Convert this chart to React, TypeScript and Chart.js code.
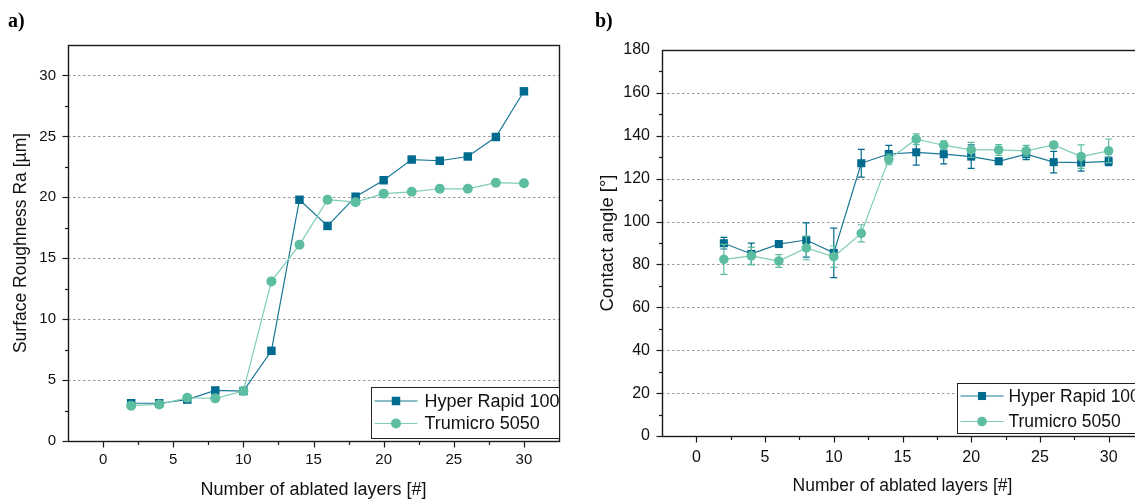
import React, { useEffect, useRef } from 'react';
import { Chart, registerables } from 'chart.js';

Chart.register(...registerables);

// ---------- data ----------
const layers = [2, 4, 6, 8, 10, 12, 14, 16, 18, 20, 22, 24, 26, 28, 30];
const seriesNames = ['Hyper Rapid 100', 'Trumicro 5050'];

const roughnessHyper = [3.1, 3.1, 3.4, 4.15, 4.1, 7.4, 19.8, 17.65, 20.05, 21.4, 23.1, 23.0, 23.35, 24.95, 28.7];
const roughnessTrumicro = [2.9, 3.0, 3.55, 3.5, 4.1, 13.1, 16.1, 19.8, 19.6, 20.3, 20.45, 20.7, 20.7, 21.2, 21.15];

const angleHyper = [89.9, 84.9, 89.5, 91.4, 85.4, 127.2, 131.5, 132.3, 131.4, 130.3, 128.1, 131.4, 127.7, 127.5, 128.1];
const angleHyperErr = [2.7, 5, 1.5, 8, 11.5, 6.5, 4, 6, 4.5, 5.5, 1.5, 2.5, 5, 4, 2];
const angleTrumicro = [82.4, 84, 81.6, 87.7, 83.6, 94.5, 129, 138.4, 135.6, 133.4, 133.4, 133, 135.7, 130.3, 133];
const angleTrumicroErr = [7, 4, 3, 5.5, 5, 4, 2.5, 2.5, 2, 3.5, 2.5, 2.5, 1, 5.5, 5.5];

const layerTicks = [0, 5, 10, 15, 20, 25, 30];
const roughnessTicks = [0, 5, 10, 15, 20, 25, 30];
const angleTicks = [0, 20, 40, 60, 80, 100, 120, 140, 160, 180];

const xTitle = 'Number of ablated layers [#]';
const roughnessTitle = 'Surface Roughness Ra [µm]';
const angleTitle = 'Contact angle [°]';

// ---------- styles ----------
const FONT = '"Liberation Sans", Arial, Helvetica, sans-serif';
const HYPER_COLOR = '#006b8f';
const HYPER_LINE = '#1a7896';
const TRUMICRO_COLOR = '#5dbda1';
const TRUMICRO_LINE = '#7fcdb6';
const AXIS_COLOR = '#1a1a1a';
const TEXT_COLOR = '#111111';

type PanelCfg = {
  width: number;
  height: number;
  padding: { top: number; right: number; left: number; bottom: number };
  yWidth: number;
  xHeight: number;
  yMax: number;
  yTicks: number[];
  yMinor: number;
  yTitle: string;
  yTitleSize: number;
  yTitlePad: number;
  xTitleSize: number;
  xTitlePad: number;
  xTickPad: number;
  tickSize: number;
  hyper: number[];
  trumicro: number[];
  hyperErr?: number[];
  trumicroErr?: number[];
  squareR: number;
  circleR: number;
  legend: { w: number; h: number; gap: number; row1: number; row2: number; size: number; textX: number };
};

function makePlugin(cfg: PanelCfg) {
  return {
    id: 'originStyle',
    beforeDatasetsDraw(chart: any) {
      const { ctx, chartArea: a, scales } = chart;
      const y = scales.y;
      ctx.save();
      ctx.strokeStyle = '#9a9a9a';
      ctx.lineWidth = 1;
      ctx.setLineDash([2.5, 2.5]);
      for (const v of cfg.yTicks) {
        if (v <= y.min || v >= y.max) continue;
        const py = Math.round(y.getPixelForValue(v)) + 0.5;
        ctx.beginPath();
        ctx.moveTo(a.left, py);
        ctx.lineTo(a.right, py);
        ctx.stroke();
      }
      ctx.restore();
    },
    afterDatasetDraw(chart: any, args: any) {
      const errs = args.index === 0 ? cfg.hyperErr : cfg.trumicroErr;
      const vals = args.index === 0 ? cfg.hyper : cfg.trumicro;
      if (!errs) return;
      const { ctx, scales } = chart;
      const y = scales.y;
      ctx.save();
      ctx.strokeStyle = args.index === 0 ? HYPER_COLOR : TRUMICRO_COLOR;
      ctx.lineWidth = 1.2;
      args.meta.data.forEach((pt: any, i: number) => {
        const px = pt.x;
        const t = y.getPixelForValue(vals[i] + errs[i]);
        const b = y.getPixelForValue(vals[i] - errs[i]);
        ctx.beginPath();
        ctx.moveTo(px, t);
        ctx.lineTo(px, b);
        ctx.moveTo(px - 3.5, t);
        ctx.lineTo(px + 3.5, t);
        ctx.moveTo(px - 3.5, b);
        ctx.lineTo(px + 3.5, b);
        ctx.stroke();
      });
      ctx.restore();
    },
    afterDraw(chart: any) {
      const { ctx, chartArea: a, scales } = chart;
      const x = scales.x;
      const y = scales.y;
      ctx.save();
      // frame
      ctx.strokeStyle = AXIS_COLOR;
      ctx.lineWidth = 1.4;
      ctx.strokeRect(Math.round(a.left) + 0.5, Math.round(a.top) + 0.5, Math.round(a.right - a.left), Math.round(a.bottom - a.top));
      // ticks
      ctx.lineWidth = 1.2;
      const bottom = Math.round(a.bottom) + 0.5;
      const leftX = Math.round(a.left) + 0.5;
      const xStep = (layerTicks[1] - layerTicks[0]) / 2;
      for (let v = x.min + xStep; v < x.max - 1e-6; v += xStep) {
        const major = layerTicks.some((t) => Math.abs(t - v) < 1e-6);
        const px = Math.round(x.getPixelForValue(v)) + 0.5;
        ctx.beginPath();
        ctx.moveTo(px, bottom);
        ctx.lineTo(px, bottom + (major ? 6 : 3.5));
        ctx.stroke();
      }
      for (let v = y.min + cfg.yMinor; v < y.max - 1e-6; v += cfg.yMinor) {
        const major = cfg.yTicks.some((t) => Math.abs(t - v) < 1e-6);
        const py = Math.round(y.getPixelForValue(v)) + 0.5;
        ctx.beginPath();
        ctx.moveTo(leftX, py);
        ctx.lineTo(leftX - (major ? 6 : 3.5), py);
        ctx.stroke();
      }
      // zero tick on y
      {
        const py = Math.round(y.getPixelForValue(0)) + 0.5;
        ctx.beginPath();
        ctx.moveTo(leftX, py);
        ctx.lineTo(leftX - 6, py);
        ctx.stroke();
      }
      // legend
      const lg = cfg.legend;
      const bx = Math.round(a.right - lg.w) + 0.5;
      const by = Math.round(a.bottom - lg.gap - lg.h) + 0.5;
      ctx.fillStyle = '#ffffff';
      ctx.fillRect(bx, by, lg.w, lg.h);
      ctx.strokeStyle = '#222222';
      ctx.lineWidth = 1;
      ctx.strokeRect(bx, by, lg.w, lg.h);
      const rows = [
        { y: by + lg.row1, line: HYPER_LINE, fill: HYPER_COLOR, square: true, text: seriesNames[0] },
        { y: by + lg.row2, line: TRUMICRO_LINE, fill: TRUMICRO_COLOR, square: false, text: seriesNames[1] },
      ];
      for (const r of rows) {
        ctx.strokeStyle = r.line;
        ctx.lineWidth = 1.2;
        ctx.beginPath();
        ctx.moveTo(bx + 3, r.y);
        ctx.lineTo(bx + 46, r.y);
        ctx.stroke();
        ctx.fillStyle = r.fill;
        if (r.square) {
          const s = cfg.squareR * Math.SQRT1_2;
          ctx.fillRect(bx + 24.5 - s, r.y - s, 2 * s, 2 * s);
        } else {
          ctx.beginPath();
          ctx.arc(bx + 24.5, r.y, cfg.circleR, 0, Math.PI * 2);
          ctx.fill();
        }
        ctx.fillStyle = TEXT_COLOR;
        ctx.font = `${lg.size}px ${FONT}`;
        ctx.textBaseline = 'middle';
        ctx.textAlign = 'left';
        ctx.fillText(r.text, bx + lg.textX, r.y + 1);
      }
      ctx.restore();
    },
  };
}

function Panel({ cfg, left }: { cfg: PanelCfg; left: number }) {
  const ref = useRef<HTMLCanvasElement>(null);
  useEffect(() => {
    const canvas = ref.current!;
    const chart = new Chart(canvas, {
      type: 'line',
      data: {
        datasets: [
          {
            label: seriesNames[0],
            data: layers.map((x, i) => ({ x, y: cfg.hyper[i] })),
            borderColor: HYPER_LINE,
            backgroundColor: HYPER_COLOR,
            pointBackgroundColor: HYPER_COLOR,
            pointBorderColor: HYPER_COLOR,
            pointBorderWidth: 0,
            pointStyle: 'rect',
            pointRadius: cfg.squareR,
            borderWidth: 1.2,
            tension: 0,
            order: 2,
          },
          {
            label: seriesNames[1],
            data: layers.map((x, i) => ({ x, y: cfg.trumicro[i] })),
            borderColor: TRUMICRO_LINE,
            backgroundColor: TRUMICRO_COLOR,
            pointBackgroundColor: TRUMICRO_COLOR,
            pointBorderColor: TRUMICRO_COLOR,
            pointBorderWidth: 0,
            pointStyle: 'circle',
            pointRadius: cfg.circleR,
            borderWidth: 1.2,
            tension: 0,
            order: 1,
          },
        ],
      },
      options: {
        responsive: false,
        maintainAspectRatio: false,
        animation: false,
        devicePixelRatio: 1,
        layout: { padding: cfg.padding },
        plugins: {
          legend: { display: false },
          tooltip: { enabled: false },
        },
        scales: {
          x: {
            type: 'linear',
            min: -2.5,
            max: 32.5,
            afterBuildTicks: (s: any) => {
              s.ticks = layerTicks.map((v) => ({ value: v }));
            },
            afterFit: (s: any) => {
              s.height = cfg.xHeight;
            },
            grid: { display: false, drawTicks: false },
            border: { display: false },
            ticks: {
              autoSkip: false,
              maxRotation: 0,
              padding: cfg.xTickPad,
              color: TEXT_COLOR,
              font: { family: FONT, size: cfg.tickSize },
            },
            title: {
              display: true,
              text: xTitle,
              color: TEXT_COLOR,
              font: { family: FONT, size: cfg.xTitleSize },
              padding: { top: 0, bottom: cfg.xTitlePad },
            },
          },
          y: {
            type: 'linear',
            min: 0,
            max: cfg.yMax,
            afterBuildTicks: (s: any) => {
              s.ticks = cfg.yTicks.map((v) => ({ value: v }));
            },
            afterFit: (s: any) => {
              s.width = cfg.yWidth;
            },
            grid: { display: false, drawTicks: false },
            border: { display: false },
            ticks: {
              autoSkip: false,
              padding: 12,
              color: TEXT_COLOR,
              font: { family: FONT, size: cfg.tickSize },
            },
            title: {
              display: true,
              text: cfg.yTitle,
              color: TEXT_COLOR,
              font: { family: FONT, size: cfg.yTitleSize },
              padding: { top: cfg.yTitlePad, bottom: 0 },
            },
          },
        },
      } as any,
      plugins: [makePlugin(cfg) as any],
    });
    return () => chart.destroy();
  }, [cfg]);
  return (
    <canvas
      ref={ref}
      width={cfg.width}
      height={cfg.height}
      style={{ position: 'absolute', left, top: 0, width: cfg.width, height: cfg.height }}
    />
  );
}

const leftCfg: PanelCfg = {
  width: 575,
  height: 501,
  padding: { top: 45, right: 16, left: 0, bottom: 0 },
  yWidth: 68,
  xHeight: 60,
  yMax: 32.5,
  yTicks: roughnessTicks,
  yMinor: 2.5,
  yTitle: roughnessTitle,
  yTitleSize: 17.5,
  yTitlePad: 10.5,
  xTitleSize: 18,
  xTitlePad: 0,
  xTickPad: 10,
  tickSize: 15,
  hyper: roughnessHyper,
  trumicro: roughnessTrumicro,
  squareR: 6,
  circleR: 5,
  legend: { w: 188, h: 51, gap: 3, row1: 13.5, row2: 36, size: 18, textX: 53 },
};

const rightCfg: PanelCfg = {
  width: 590,
  height: 501,
  padding: { top: 50, right: 22, left: 0, bottom: 0 },
  yWidth: 87,
  xHeight: 65,
  yMax: 180,
  yTicks: angleTicks,
  yMinor: 10,
  yTitle: angleTitle,
  yTitleSize: 18.5,
  yTitlePad: 22,
  xTitleSize: 17.5,
  xTitlePad: 4,
  xTickPad: 12,
  tickSize: 16,
  hyper: angleHyper,
  trumicro: angleTrumicro,
  hyperErr: angleHyperErr,
  trumicroErr: angleTrumicroErr,
  squareR: 5.7,
  circleR: 4.8,
  legend: { w: 186, h: 50, gap: 3.5, row1: 12.5, row2: 38, size: 17.5, textX: 51 },
};

export default function App() {
  const label: React.CSSProperties = {
    position: 'absolute',
    top: 10,
    fontFamily: '"Liberation Serif", "Times New Roman", serif',
    fontWeight: 'bold',
    fontSize: 20,
    lineHeight: '20px',
    color: '#000',
  };
  return (
    <div
      style={{
        position: 'fixed',
        left: 0,
        top: 0,
        width: 1135,
        height: 501,
        overflow: 'hidden',
        background: '#ffffff',
      }}
    >
      <Panel cfg={leftCfg} left={0} />
      <Panel cfg={rightCfg} left={575} />
      <div style={{ ...label, left: 8 }}>a)</div>
      <div style={{ ...label, left: 595 }}>b)</div>
    </div>
  );
}
